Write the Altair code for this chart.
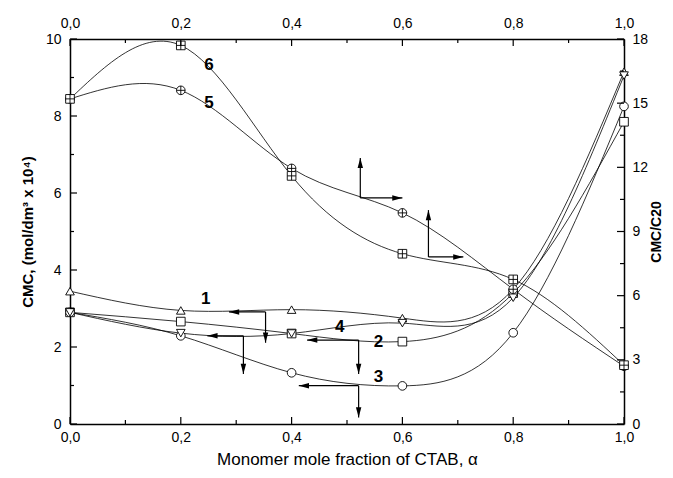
import altair as alt
import pandas as pd

# ---------------- data ----------------
alpha = [0.0, 0.2, 0.4, 0.6, 0.8, 1.0]
cmc1 = [3.45, 2.95, 2.97, 2.75, 3.50, 9.15]   # triangle up  (left axis)
cmc2 = [2.90, 2.66, 2.35, 2.14, 3.40, 7.85]   # square
cmc3 = [2.90, 2.29, 1.33, 0.99, 2.37, 8.25]   # circle
cmc4 = [2.90, 2.36, 2.35, 2.62, 3.28, 9.05]   # triangle down
ratio5 = [15.2, 15.6, 11.95, 9.87, 6.30, 2.70]  # circle-plus (right axis)
ratio6 = [15.2, 17.7, 11.60, 7.96, 6.76, 2.75]  # square-plus (right axis)

x_major = [0.0, 0.2, 0.4, 0.6, 0.8, 1.0]
x_minor = [0.1, 0.3, 0.5, 0.7, 0.9]
yl_major = [0, 2, 4, 6, 8, 10]
yl_minor = [1, 3, 5, 7, 9]
yr_major = [0, 3, 6, 9, 12, 15, 18]
yr_minor = [1.5, 4.5, 7.5, 10.5, 13.5, 16.5]

# curve labels
lab_left_t = ["1", "2", "3", "4"]
lab_left_x = [0.245, 0.557, 0.557, 0.487]
lab_left_y = [3.24, 2.14, 1.23, 2.52]
lab_right_t = ["5", "6"]
lab_right_x = [0.251, 0.251]
lab_right_y = [15.0, 16.8]

# arrows (data units): segments and heads
arr_left_x = [0.353, 0.353, 0.313, 0.313, 0.521, 0.521, 0.521, 0.521]
arr_left_x2 = [0.287, 0.353, 0.248, 0.313, 0.428, 0.521, 0.413, 0.521]
arr_left_y = [2.91, 2.91, 2.29, 2.29, 2.18, 2.18, 0.995, 0.995]
arr_left_y2 = [2.91, 2.11, 2.29, 1.30, 2.18, 1.30, 0.995, 0.17]
arr_left_dir = ["L", "D", "L", "D", "L", "D", "L", "D"]

arr_right_x = [0.524, 0.524, 0.647, 0.647]
arr_right_x2 = [0.600, 0.524, 0.710, 0.647]
arr_right_y = [10.57, 10.57, 7.81, 7.81]
arr_right_y2 = [10.57, 12.44, 7.81, 10.0]
arr_right_dir = ["R", "U", "R", "U"]

# ---------------- tables ----------------
left_df = pd.DataFrame({
    "x": alpha * 4,
    "y": cmc1 + cmc2 + cmc3 + cmc4,
    "s": ["1"] * 6 + ["2"] * 6 + ["3"] * 6 + ["4"] * 6,
})
right_df = pd.DataFrame({
    "x": alpha * 2,
    "y": ratio5 + ratio6,
    "s": ["5"] * 6 + ["6"] * 6,
})
lab_left = pd.DataFrame({"x": lab_left_x, "y": lab_left_y, "t": lab_left_t})
lab_right = pd.DataFrame({"x": lab_right_x, "y": lab_right_y, "t": lab_right_t})
arrL = pd.DataFrame({"x": arr_left_x, "x2": arr_left_x2, "y": arr_left_y,
                     "y2": arr_left_y2, "d": arr_left_dir})
arrR = pd.DataFrame({"x": arr_right_x, "x2": arr_right_x2, "y": arr_right_y,
                     "y2": arr_right_y2, "d": arr_right_dir})

FONT = "Liberation Sans"
W, H = 554, 385

xs = alt.Scale(domain=[0, 1], nice=False, zero=False)
yls = alt.Scale(domain=[0, 10], nice=False)
yrs = alt.Scale(domain=[0, 18], nice=False)

comma = "replace(format(datum.value, '.1f'), '.', ',')"
common = dict(ticks=False, grid=False, domain=True, domainColor="black",
              domainWidth=1.5, labelFont=FONT, labelFontSize=14,
              labelColor="black", titleFont=FONT, titleColor="black",
              labelFlush=False, labelOverlap=False)

ax_bottom = alt.Axis(orient="bottom", values=x_major, labelExpr=comma,
                     labelPadding=6, title="Monomer mole fraction of CTAB, α",
                     titleFontSize=17, titleFontWeight="normal",
                     titlePadding=7, **common)
ax_top = alt.Axis(orient="top", values=x_major, labelExpr=comma,
                  labelPadding=9, title=None, **common)
ax_left = alt.Axis(orient="left", values=yl_major, format="d", labelPadding=9,
                   title="CMC, (mol/dm³ x 10⁴)", titleFontSize=15,
                   titleFontWeight="bold", titlePadding=10, **common)
ax_right = alt.Axis(orient="right", values=yr_major, format="d",
                    labelPadding=8, title="CMC/C20", titleFontSize=14,
                    titleFontWeight="bold", titleAngle=270,
                    titleBaseline="top", titlePadding=2, **common)

shape_left = alt.Scale(domain=["1", "2", "3", "4"],
                       range=["triangle-up", "square", "circle", "triangle-down"])
circ_plus = "M-1,0A1,1,0,1,1,1,0A1,1,0,1,1,-1,0ZM-1,0L1,0M0,-1L0,1"
sq_plus = "M-1,-1L1,-1L1,1L-1,1ZM-1,0L1,0M0,-1L0,1"
shape_right = alt.Scale(domain=["5", "6"], range=[circ_plus, sq_plus])
head_scale = alt.Scale(domain=["L", "R", "U", "D"], range=[
    "M0,0L3,-0.8L3,0.8Z", "M0,0L-3,-0.8L-3,0.8Z",
    "M0,0L-0.8,3L0.8,3Z", "M0,0L-0.8,-3L0.8,-3Z"])


def group(df, arr, labs, shape_sc, xax, yax, ysc, tick_layers):
    X = alt.X("x:Q", scale=xs, axis=xax)
    Y = alt.Y("y:Q", scale=ysc, axis=yax)
    lines = alt.Chart(df).mark_line(interpolate="natural", color="black",
                                    strokeWidth=0.8).encode(
        x=X, y=Y, detail="s:N")
    rules = alt.Chart(arr).mark_rule(color="black", strokeWidth=1.2).encode(
        x=X, x2="x2:Q", y=Y, y2="y2:Q")
    heads = alt.Chart(arr).mark_point(filled=True, color="black", size=46,
                                      opacity=1).encode(
        x=alt.X("x2:Q", scale=xs, axis=xax),
        y=alt.Y("y2:Q", scale=ysc, axis=yax),
        shape=alt.Shape("d:N", scale=head_scale, legend=None))
    pts = alt.Chart(df).mark_point(filled=True, color="white", stroke="black",
                                   strokeWidth=0.9, size=75,
                                   opacity=1).encode(
        x=X, y=Y, shape=alt.Shape("s:N", scale=shape_sc, legend=None))
    text = alt.Chart(labs).mark_text(font=FONT, fontSize=17, fontWeight="bold",
                                     color="black").encode(x=X, y=Y, text="t:N")
    ticks = [t(X, Y) for t in tick_layers]
    return alt.layer(lines, rules, heads, pts, text, *ticks).resolve_scale(
        shape="independent")


def xtick(vals, y0, y1):
    def f(X, Y):
        return alt.Chart(pd.DataFrame({"x": vals})).mark_rule(
            color="black", strokeWidth=1.2).encode(
            x=X, y=alt.value(y0), y2=alt.value(y1))
    return f


def ytick(vals, x0, x1):
    def f(X, Y):
        return alt.Chart(pd.DataFrame({"y": vals})).mark_rule(
            color="black", strokeWidth=1.2).encode(
            y=Y, x=alt.value(x0), x2=alt.value(x1))
    return f


left = group(left_df, arrL, lab_left, shape_left, ax_bottom, ax_left, yls, [
    xtick(x_major, H, H - 7), xtick(x_minor, H, H - 4),
    ytick(yl_major, 0, 7), ytick(yl_minor, 0, 4)])
right = group(right_df, arrR, lab_right, shape_right, ax_top, ax_right, yrs, [
    xtick(x_major, 0, 7), xtick(x_minor, 0, 4),
    ytick(yr_major, W, W - 7), ytick(yr_minor, W, W - 4)])

chart = alt.layer(left, right).resolve_scale(
    y="independent", shape="independent").resolve_axis(
    x="independent", y="independent").properties(
    width=W, height=H,
    padding={"left": 12, "top": 8, "right": 0, "bottom": 0},
    background="white",
).configure_view(stroke=None)

chart.save("out.html", embed_options={"renderer": "svg", "actions": False})
